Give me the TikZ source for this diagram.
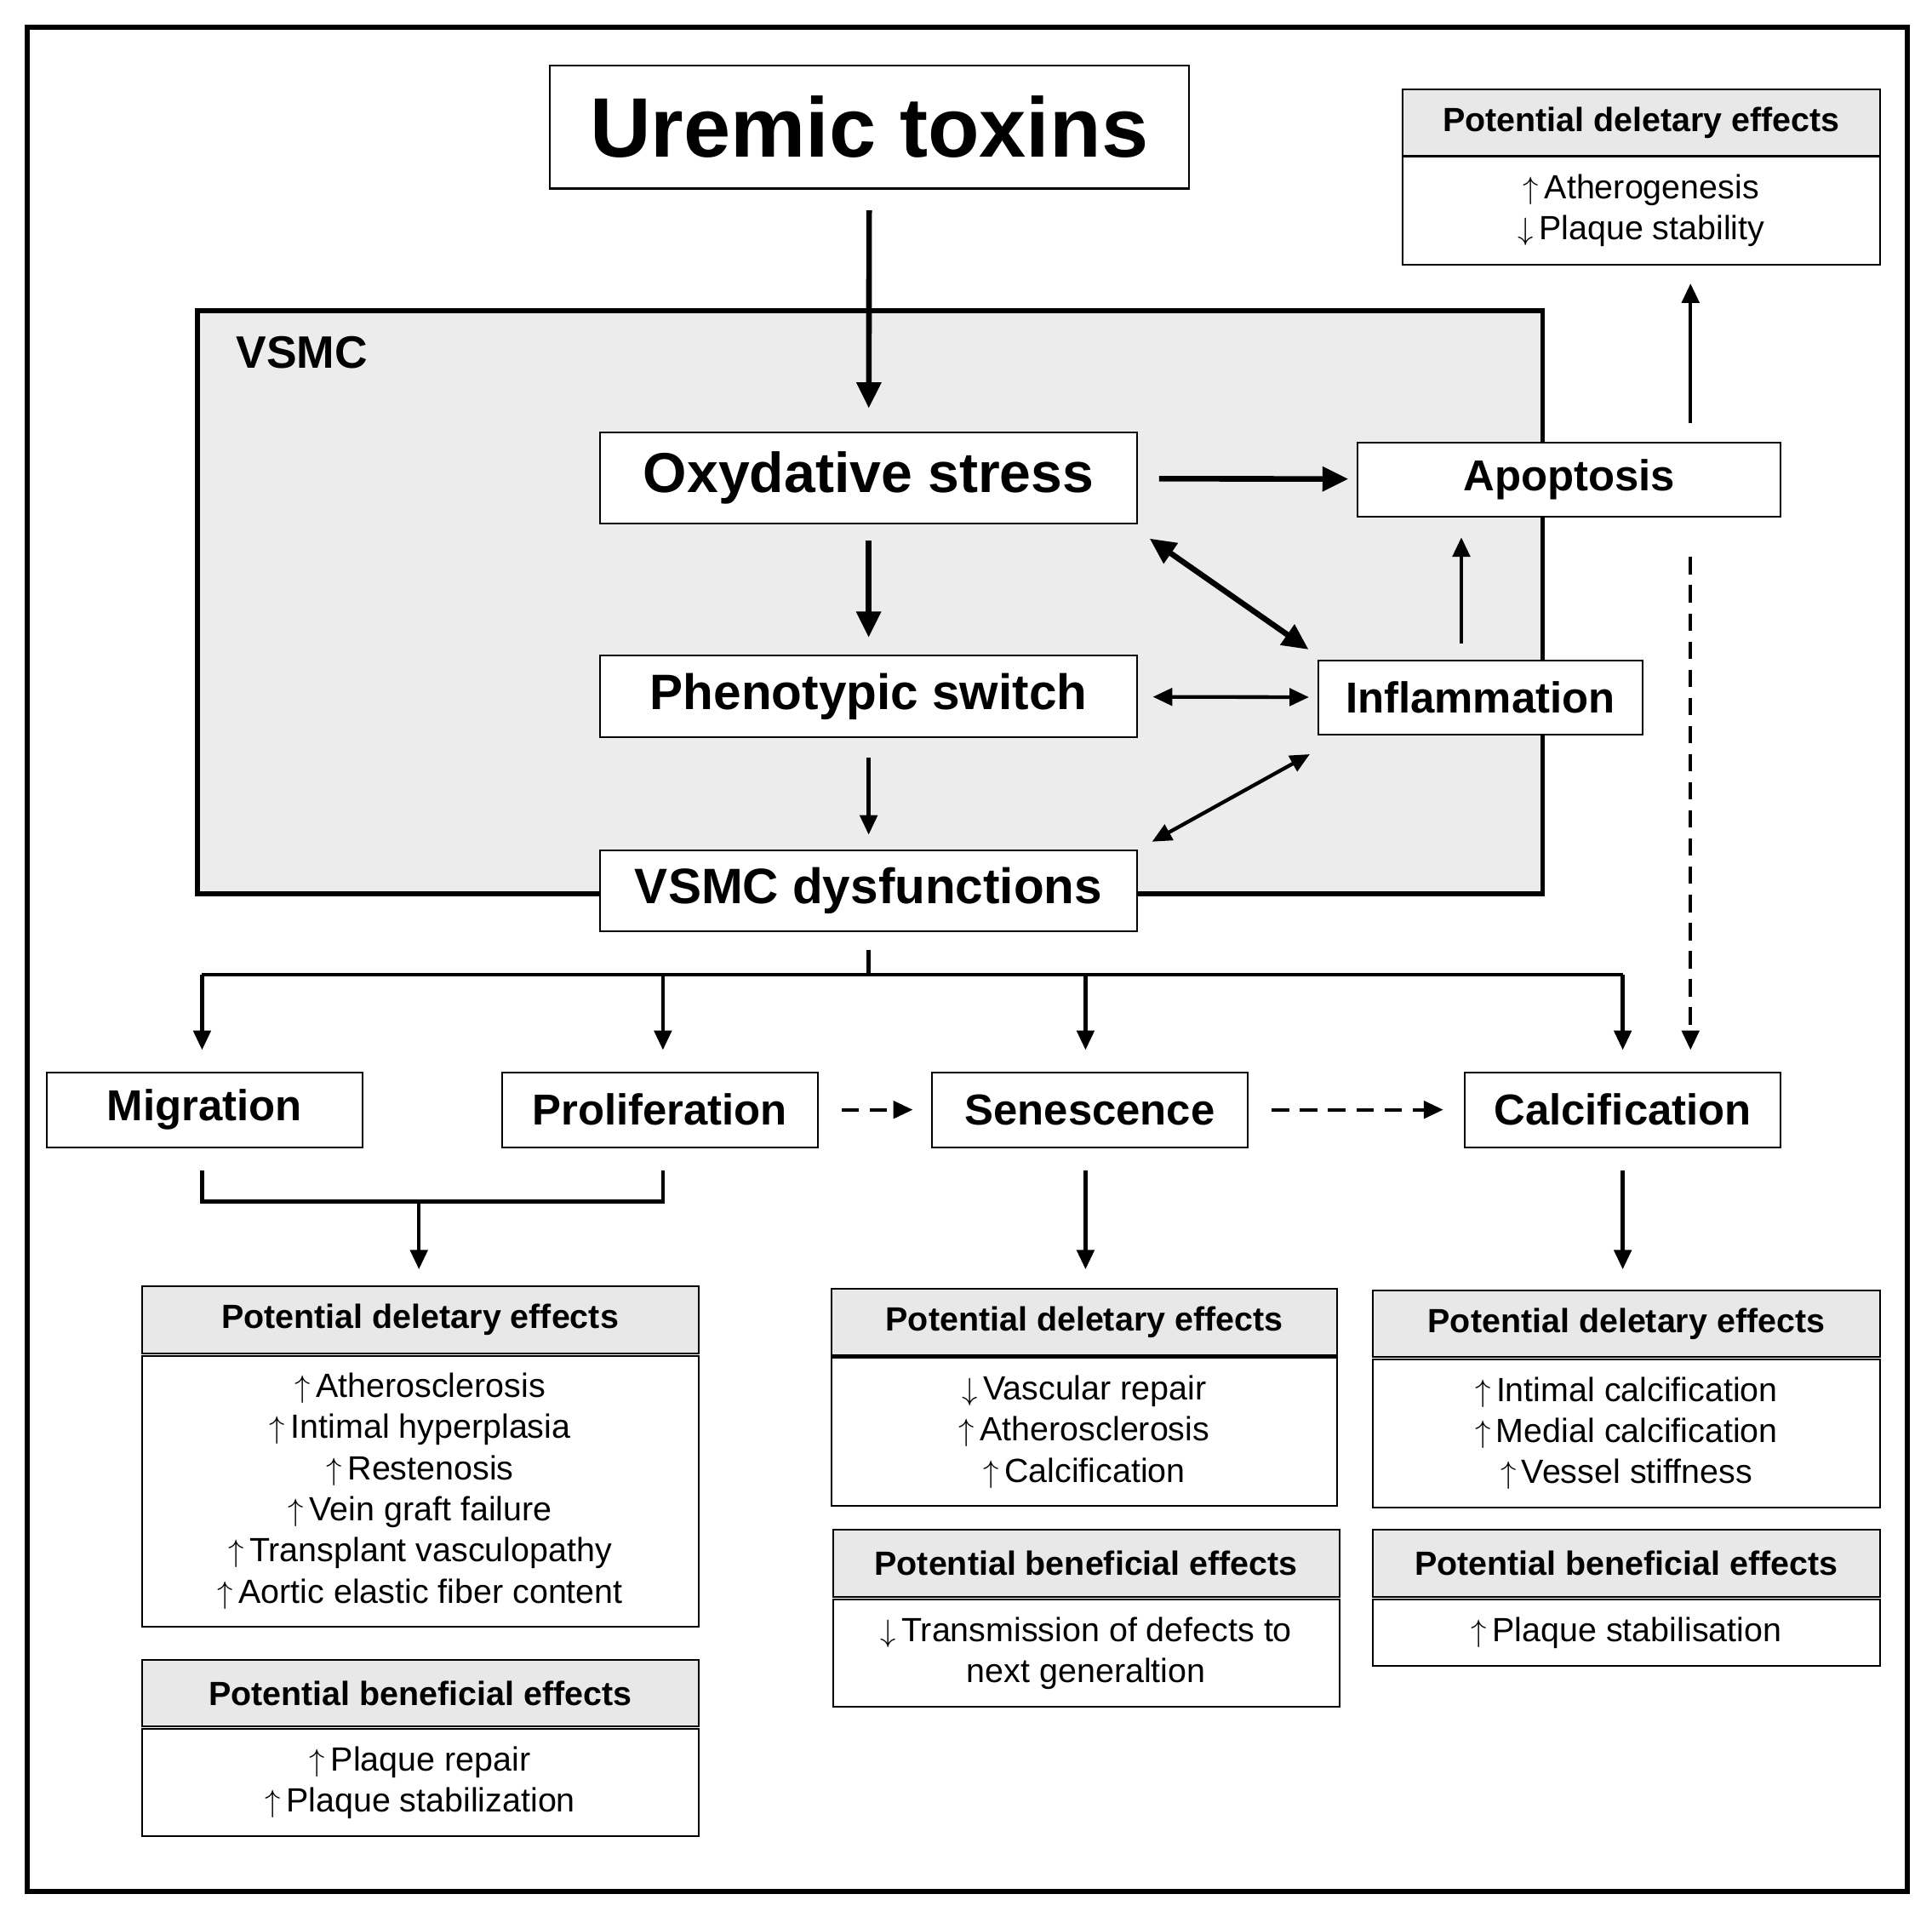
\documentclass[tikz,border=0pt]{standalone}
\usepackage{amsmath}
\usepackage{fontspec}
\setmainfont{Liberation Sans}
\usetikzlibrary{arrows.meta,positioning}
\tikzset{
  box/.style={draw, line width=0.8pt, fill=white, font=\bfseries\fontsize{20}{24}\selectfont, inner sep=0pt},
  head/.style={draw, line width=0.8pt, fill=gray!18, font=\bfseries\fontsize{15.5}{19}\selectfont, minimum height=1.08cm, inner sep=0pt},
  body/.style={draw, line width=0.8pt, fill=white, align=center, font=\fontsize{15.5}{19}\selectfont, inner sep=0pt},
  big/.style={line width=2.6pt, -{Triangle[length=12pt,width=11pt]}},
  med/.style={line width=1.7pt, -{Triangle[length=9pt,width=8pt]}},
  dasharrow/.style={line width=1.7pt, dash pattern=on 8pt off 5pt, -{Triangle[length=9pt,width=8pt]}}
}
\newcommand{\up}{$\uparrow$\,}
\newcommand{\dn}{$\downarrow$\,}
\begin{document}
\begin{tikzpicture}[x=0.02cm, y=-0.02cm]
\useasboundingbox (0,0) rectangle (1568,1555);
% frame and cell
\draw[line width=2.3pt] (22,22) rectangle (1548,1535);
\draw[line width=2.3pt, fill=gray!15] (160,252) rectangle (1252,725);
\node[font=\bfseries\fontsize{21}{24}\selectfont] (vsmc) at (245,286) {VSMC};

% main nodes
\node[box, font=\bfseries\fontsize{39}{44}\selectfont, minimum width=10.38cm, minimum height=2cm] (uremic) at (705.5,103) {Uremic toxins};
\node[box, font=\bfseries\fontsize{26}{30}\selectfont, minimum width=8.72cm, minimum height=1.48cm] (oxy) at (705,388) {Oxydative stress};
\node[box, font=\bfseries\fontsize{23}{27}\selectfont, minimum width=8.72cm, minimum height=1.32cm] (pheno) at (705,565) {Phenotypic switch};
\node[box, font=\bfseries\fontsize{23}{27}\selectfont, minimum width=8.72cm, minimum height=1.32cm] (dysf) at (705,723) {VSMC dysfunctions};
\node[box, minimum width=6.86cm, minimum height=1.2cm] (apop) at (1273.5,389) {Apoptosis};
\node[box, minimum width=5.26cm, minimum height=1.2cm] (infl) at (1201.5,566) {Inflammation};

\node[box, minimum width=5.12cm, minimum height=1.22cm] (migr) at (166,900.5) {Migration};
\node[box, minimum width=5.12cm, minimum height=1.22cm] (prol) at (535.5,900.5) {Proliferation};
\node[box, minimum width=5.12cm, minimum height=1.22cm] (sene) at (884.5,900.5) {Senescence};
\node[box, minimum width=5.12cm, minimum height=1.22cm] (calc) at (1317,900.5) {Calcification};

% effect panels
\node[head, minimum width=7.76cm] (topH) at (1332,99.5) {Potential deletary effects};
\node[body, minimum width=7.76cm, minimum height=1.76cm] (topB) at (1332,171) {\up Atherogenesis\\ \dn Plaque stability};

\node[head, minimum width=9.04cm] (migH) at (341,1071) {Potential deletary effects};
\node[body, minimum width=9.04cm, minimum height=4.4cm] (migB) at (341,1210) {\up Atherosclerosis\\ \up Intimal hyperplasia\\ \up Restenosis\\ \up Vein graft failure\\ \up Transplant vasculopathy\\ \up Aortic elastic fiber content};
\node[head, minimum width=9.04cm] (migBH) at (341,1374) {Potential beneficial effects};
\node[body, minimum width=9.04cm, minimum height=1.74cm] (migBB) at (341,1446.5) {\up Plaque repair\\ \up Plaque stabilization};

\node[head, minimum width=8.2cm] (senH) at (880,1073) {Potential deletary effects};
\node[body, minimum width=8.2cm, minimum height=2.4cm] (senB) at (880,1162) {\dn Vascular repair\\ \up Atherosclerosis\\ \up Calcification};
\node[head, minimum width=8.22cm] (senBH) at (881.5,1268.5) {Potential beneficial effects};
\node[body, minimum width=8.22cm, minimum height=1.74cm] (senBB) at (881.5,1341.5) {\dn Transmission of defects to\\ next generaltion};

\node[head, minimum width=8.24cm] (calH) at (1320,1074) {Potential deletary effects};
\node[body, minimum width=8.24cm, minimum height=2.4cm] (calB) at (1320,1163) {\up Intimal calcification\\ \up Medial calcification\\ \up Vessel stiffness};
\node[head, minimum width=8.24cm] (calBH) at (1320,1268.5) {Potential beneficial effects};
\node[body, minimum width=8.24cm, minimum height=1.08cm] (calBB) at (1320,1325) {\up Plaque stabilisation};

% free ends
\coordinate (oxyIn) at (933,437);
\coordinate (inflOxy) at (1062,527);
\coordinate (inflTop) at (1186,522);
\coordinate (apopBot) at (1186,436);
\coordinate (dysfIn) at (935,683);
\coordinate (inflLow) at (1063,612);
\coordinate (apopUp) at (1372,343);
\coordinate (topIn) at (1372,230);
\coordinate (apopDn) at (1372,452);
\coordinate (calcIn) at (1372,852);
\coordinate (split) at (705,791);

% connectors
\draw[big, shorten <=0.34cm, shorten >=0.38cm] (uremic) -- (oxy);
\draw[big, shorten <=0.34cm, shorten >=0.14cm] (oxy) -- (apop);
\draw[big, shorten <=0.26cm, shorten >=0.28cm] (oxy) -- (pheno);
\draw[line width=2.6pt, {Triangle[length=12pt,width=11pt]}-{Triangle[length=12pt,width=11pt]}] (oxyIn) -- (inflOxy);
\draw[line width=1.7pt, {Triangle[length=9pt,width=8pt]}-{Triangle[length=9pt,width=8pt]}, shorten <=0.24cm, shorten >=0.14cm] (pheno) -- (infl);
\draw[med] (inflTop) -- (apopBot);
\draw[med, shorten <=0.32cm, shorten >=0.24cm] (pheno) -- (dysf);
\draw[line width=1.7pt, {Triangle[length=9pt,width=8pt]}-{Triangle[length=9pt,width=8pt]}] (dysfIn) -- (inflLow);
\draw[med] (apopUp) -- (topIn);
\draw[dasharrow] (apopDn) -- (calcIn);

% branch from dysfunctions
\draw[line width=1.7pt, shorten <=0.28cm] (dysf) -- (split);
\draw[line width=1.7pt] (164,791) -- (1317,791);
\foreach \x in {164,538,881,1317}
  \draw[med] (\x,791) -- (\x,852);
\draw[dasharrow, shorten <=0.38cm, shorten >=0.3cm] (prol) -- (sene);
\draw[dasharrow, shorten <=0.38cm, shorten >=0.34cm] (sene) -- (calc);

% to effects
\draw[line width=1.7pt] (164,950) -- (164,975) -- (538,975) -- (538,950);
\draw[med] (340,975) -- (340,1030);
\draw[med] (881,950) -- (881,1030);
\draw[med] (1317,950) -- (1317,1030);
\end{tikzpicture}
\end{document}
